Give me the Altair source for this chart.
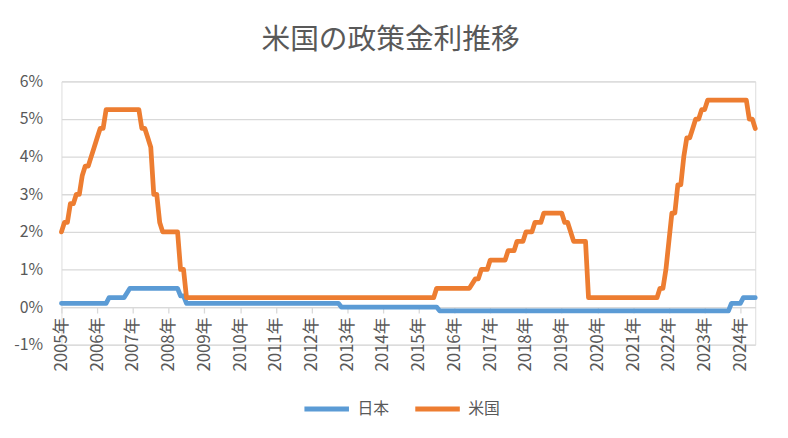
import json
import altair as alt
import pandas as pd

# ---- data ----
title_text = "米国の政策金利推移"
series_names = ["日本", "米国"]
series_colors = ["#5B9BD5", "#ED7D31"]

tick_months = [0, 12, 24, 36, 48, 60, 72, 84, 96, 108, 120, 132, 144, 156, 168, 180, 192, 204, 216, 228]
year_labels = ["2005年", "2006年", "2007年", "2008年", "2009年", "2010年", "2011年", "2012年", "2013年", "2014年",
               "2015年", "2016年", "2017年", "2018年", "2019年", "2020年", "2021年", "2022年", "2023年", "2024年"]
y_ticks = [-1, 0, 1, 2, 3, 4, 5, 6]

# month index (0 = first month of 2005) and rate in %
jp_month = [0, 15, 16, 21, 23, 39, 40, 41, 42, 93, 94, 126, 127, 224, 225, 228, 229, 233]
jp_rate = [0.1, 0.1, 0.25, 0.25, 0.5, 0.5, 0.3, 0.3, 0.1, 0.1, 0.0, 0.0, -0.1, -0.1, 0.1, 0.1, 0.25, 0.25]

us_month = [0, 1, 2, 3, 4, 5, 6, 7, 8, 9, 10, 11, 12, 13, 14, 15, 26, 27, 28, 29, 30, 31, 32, 33, 34,
            39, 40, 41, 42, 125, 126, 137, 139, 140, 141, 143, 144, 149, 150, 152, 153, 155, 156, 158,
            159, 161, 162, 168, 169, 170, 172, 176, 177, 200, 201, 202, 203, 204, 205, 206, 207, 208,
            209, 210, 211, 212, 213, 214, 215, 216, 217, 230, 231, 232, 233]
us_rate = [2.0, 2.25, 2.25, 2.75, 2.75, 3.0, 3.0, 3.5, 3.75, 3.75, 4.0, 4.25, 4.5, 4.75, 4.75, 5.25, 5.25,
           4.75, 4.75, 4.5, 4.25, 3.0, 3.0, 2.25, 2.0,
           2.0, 1.0, 1.0, 0.25, 0.25, 0.5, 0.5, 0.75, 0.75, 1.0, 1.0, 1.25, 1.25, 1.5, 1.5, 1.75, 1.75, 2.0, 2.0,
           2.25, 2.25, 2.5, 2.5, 2.25, 2.25, 1.75, 1.75, 0.25, 0.25, 0.5, 0.5, 1.0, 1.75, 2.5, 2.5, 3.25, 3.25,
           4.0, 4.5, 4.5, 4.75, 5.0, 5.0, 5.25, 5.25, 5.5, 5.5, 5.0, 5.0, 4.75]

rows = []
for m, r in zip(jp_month, jp_rate):
    rows.append({"month": m, "rate": r, "series": series_names[0], "order": 0})
for m, r in zip(us_month, us_rate):
    rows.append({"month": m, "rate": r, "series": series_names[1], "order": 1})
df = pd.DataFrame(rows)

FONT = "Noto Sans CJK JP"
GREY = "#595959"
GRID = "#D9D9D9"

W, H = 701, 266
label_expr = json.dumps(year_labels, ensure_ascii=False) + "[round(datum.value / 12)]"

chart = alt.Chart(df).mark_line(
    strokeWidth=4.8, strokeCap="round", strokeJoin="round"
).encode(
    x=alt.X("month:Q",
            scale=alt.Scale(domain=[0, 233], nice=False, zero=False),
            axis=alt.Axis(values=tick_months, labelExpr=label_expr, labelAngle=-90,
                          offset=-38, grid=False, domainColor=GRID, domainWidth=1.3,
                          tickColor=GRID, tickWidth=1.3, tickSize=6, labelPadding=4,
                          labelFont=FONT, labelFontSize=17, labelColor=GREY, title=None)),
    y=alt.Y("rate:Q",
            scale=alt.Scale(domain=[-1, 6], nice=False, zero=False),
            axis=alt.Axis(values=y_ticks, labelExpr="toString(datum.value) + '%'",
                          grid=True, gridColor=GRID, gridWidth=1.3, domain=False, ticks=False,
                          labelPadding=19, labelFont=FONT, labelFontSize=16, labelColor=GREY,
                          title=None)),
    color=alt.Color("series:N",
                    scale=alt.Scale(domain=series_names, range=series_colors),
                    legend=alt.Legend(title=None, orient="none", legendX=243, legendY=306,
                                      direction="horizontal", symbolType="stroke",
                                      symbolSize=2025, symbolStrokeWidth=5,
                                      labelFont=FONT, labelFontSize=16, labelColor=GREY,
                                      labelOffset=6, columnPadding=15)),
    order=alt.Order("order:Q"),
    detail="series:N",
).properties(
    width=W, height=H,
    title=alt.TitleParams(title_text, font=FONT, fontSize=29, fontWeight="normal", color=GREY,
                          anchor="middle", dx=-18, offset=19),
    autosize=alt.AutoSizeParams(type="none"),
    padding={"left": 54, "top": 72, "right": 25, "bottom": 84},
).configure_view(stroke=None).configure(background="white")

chart.save("out.html", embed_options={"renderer": "svg", "actions": False})
